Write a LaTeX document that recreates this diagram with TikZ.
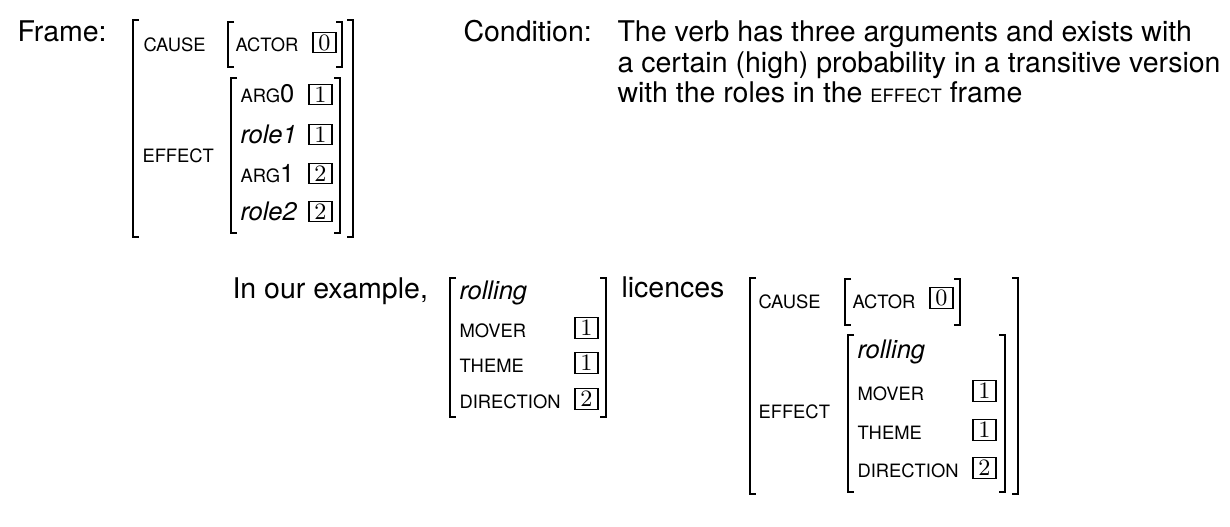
\documentclass[tikz,border=0pt]{standalone}
\usepackage{fontspec}
\setsansfont{TeX Gyre Heros}
\newcommand\attr[1]{{\fontsize{7.35}{8}\selectfont #1}}
\newcommand\lbrk[3]{\draw[brk] (#1+6,#2) -- (#1,#2) -- (#1,#3) -- (#1+6,#3);}
\newcommand\rbrk[3]{\draw[brk] (#1-6,#2) -- (#1,#2) -- (#1,#3) -- (#1-6,#3);}
\tikzset{
  txt/.style={anchor=base west,inner sep=0pt,font=\sffamily\fontsize{11.4}{13}\selectfont},
  avm/.style={anchor=base west,inner sep=0pt,font=\sffamily\fontsize{10.2}{12}\selectfont},
  tag/.style={draw,line width=0.5pt,inner sep=0pt,minimum width=9.2pt,minimum height=8.2pt,font=\rmfamily\fontsize{9.4}{10}\selectfont},
  brk/.style={line width=0.8pt}
}
\begin{document}
\begin{tikzpicture}[x=0.4pt,y=-0.4pt]
\useasboundingbox (0,0) rectangle (1230,526);
% frame
\node[txt] (frame) at (17,42) {Frame:};
\lbrk{133}{20}{237} \rbrk{353}{20}{237}
\node[avm] (cause) at (143,52) {\attr{CAUSE}};
\lbrk{228}{22}{67} \rbrk{342}{22}{67}
\node[avm] (actor) at (235,52) {\attr{ACTOR}};
\node[tag] (tag0) at (324.5,42.5) {0};
\node[avm] (effect) at (142,162) {\attr{EFFECT}};
\lbrk{231}{78}{233} \rbrk{340}{78}{233}
\foreach \y/\lab/\n [count=\i] in {103/{\attr{ARG}0}/1,143/{\textit{role1}}/1,182/{\attr{ARG}1}/2,220/{\textit{role2}}/2} {
	\node[avm] (role\i) at (240,\y) {\lab};
	\node[tag] (tagr\i) at (320.5,\y-8.5) {\n};
}
% condition
\node[txt] (cond) at (463,42) {Condition:};
\foreach \y/\line [count=\i] in {42/{The verb has three arguments and exists with},
	73/{a certain (high) probability in a transitive version},
	103/{with the roles in the \attr{EFFECT} frame}} {
	\node[txt] (cline\i) at (617,\y) {\line};
}
% example
\node[txt] (ex) at (232,298) {In our example,};
\lbrk{450}{278}{417} \rbrk{606}{278}{417}
\node[avm] (roll) at (459,299) {\textit{rolling}};
\foreach \y/\lab/\n [count=\i] in {337/MOVER/1,372/THEME/1,408/DIRECTION/2} {
	\node[avm] (fa\i) at (459,\y) {\attr{\lab}};
	\node[tag] (taga\i) at (586.5,\y-9) {\n};
}
\node[txt] (lic) at (621,297) {licences};
\lbrk{750}{278}{494} \rbrk{1018}{278}{494}
\node[avm] (cause2) at (758,308) {\attr{CAUSE}};
\lbrk{845}{279}{325} \rbrk{960}{279}{325}
\node[avm] (actor2) at (852,308) {\attr{ACTOR}};
\node[tag] (tag02) at (941.5,298) {0};
\node[avm] (effect2) at (758,418) {\attr{EFFECT}};
\lbrk{848}{335}{492} \rbrk{1005}{335}{492}
\node[avm] (roll2) at (857,358) {\textit{rolling}};
\foreach \y/\lab/\n [count=\i] in {400/MOVER/1,439/THEME/1,477/DIRECTION/2} {
	\node[avm] (fb\i) at (857,\y) {\attr{\lab}};
	\node[tag] (tagb\i) at (984.5,\y-9) {\n};
}
\end{tikzpicture}
\end{document}
